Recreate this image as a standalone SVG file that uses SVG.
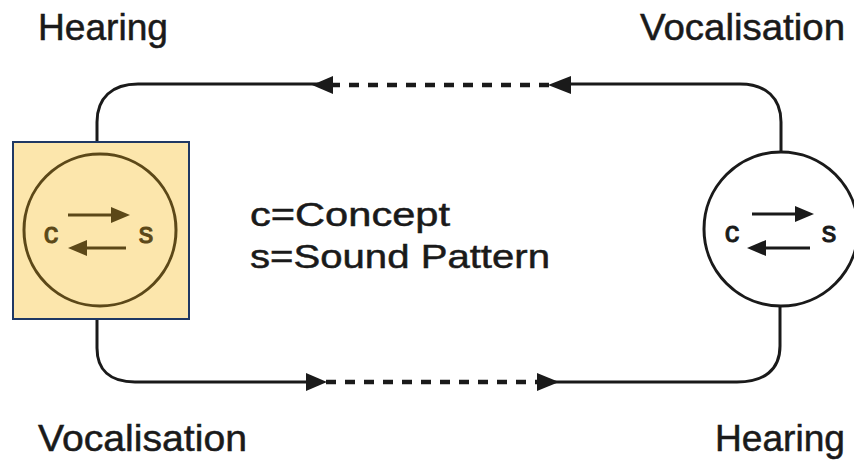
<svg xmlns="http://www.w3.org/2000/svg" width="854" height="460" viewBox="0 0 854 460">
  <style>
    .label { font-family: "Liberation Sans", Arial, sans-serif; fill: #1a1a1a; stroke: #1a1a1a; stroke-width: 0.5; }
    .big { font-size: 36px; }
    .key { font-size: 34px; }
    .cs { font-size: 29px; stroke-width: 1; }
    .wire { fill: none; stroke: #1a1a1a; stroke-width: 3; stroke-linecap: round; }
    .dash { fill: none; stroke: #1a1a1a; stroke-width: 4.5; stroke-dasharray: 10 9; }
    .head { fill: #1a1a1a; }
    .ring { fill: #ffffff; stroke: #1a1a1a; stroke-width: 3; }
    .inner { fill: none; stroke: #1a1a1a; stroke-width: 3.2; }
    .hi .ring { fill: none; stroke: #5c4818; }
    .hi .inner { stroke: #5c4818; }
    .hi .head { fill: #5c4818; }
    .hi .label { fill: #5c4818; stroke: #5c4818; }
  </style>

  <rect width="854" height="460" fill="#ffffff"/>

  <!-- circuit connectors -->
  <g id="connectors">
    <!-- upper path: vocalisation (right) to hearing (left) -->
    <path class="wire" d="M97,142 V122 C97,98 112,84 138,84 H318"/>
    <path class="dash" d="M330,85 H552"/>
    <path class="wire" d="M565,84 H740 C766,84 781,98 781,122 V153"/>
    <polygon class="head" points="312,85 333,76 333,94"/>
    <polygon class="head" points="548,85 571,76 571,94"/>

    <!-- lower path: vocalisation (left) to hearing (right) -->
    <path class="wire" d="M97,318 V348 C97,370 110,382 135,382 H312"/>
    <path class="dash" d="M326,382 H540"/>
    <path class="wire" d="M552,382 H737 C764,382 780,370 780,346 V305"/>
    <polygon class="head" points="327,382 306,373 306,391"/>
    <polygon class="head" points="559,382 537,373 537,391"/>
  </g>

  <!-- left speaker, highlighted -->
  <g id="speaker-left" class="hi">
    <rect x="13" y="142" width="176" height="177" fill="#fce6ac" stroke="#1f3864" stroke-width="2"/>
    <circle class="ring" cx="100" cy="230" r="76"/>
    <line class="inner" x1="68" y1="215" x2="114" y2="215"/>
    <polygon class="head" points="130,215 111,207 111,223"/>
    <line class="inner" x1="126" y1="248" x2="84" y2="248"/>
    <polygon class="head" points="68,248 87,240 87,256"/>
    <text class="label cs" x="51" y="243" text-anchor="middle">c</text>
    <text class="label cs" x="146" y="243" text-anchor="middle">s</text>
  </g>

  <!-- right speaker -->
  <g id="speaker-right">
    <circle class="ring" cx="781" cy="229" r="77"/>
    <line class="inner" x1="752" y1="214" x2="798" y2="214"/>
    <polygon class="head" points="814,214 795,206 795,222"/>
    <line class="inner" x1="810" y1="248" x2="764" y2="248"/>
    <polygon class="head" points="747,248 766,240 766,256"/>
    <text class="label cs" x="732" y="242" text-anchor="middle">c</text>
    <text class="label cs" x="829" y="242" text-anchor="middle">s</text>
  </g>

  <!-- legend -->
  <g id="legend">
    <text class="label key" x="250" y="226" textLength="200" lengthAdjust="spacingAndGlyphs">c=Concept</text>
    <text class="label key" x="250" y="268" textLength="300" lengthAdjust="spacingAndGlyphs">s=Sound Pattern</text>
  </g>

  <!-- stage labels -->
  <g id="labels">
    <text class="label big" x="38" y="40" textLength="130" lengthAdjust="spacingAndGlyphs">Hearing</text>
    <text class="label big" x="640" y="40" textLength="205" lengthAdjust="spacingAndGlyphs">Vocalisation</text>
    <text class="label big" x="38" y="451" textLength="209" lengthAdjust="spacingAndGlyphs">Vocalisation</text>
    <text class="label big" x="715" y="451" textLength="130" lengthAdjust="spacingAndGlyphs">Hearing</text>
  </g>
</svg>
